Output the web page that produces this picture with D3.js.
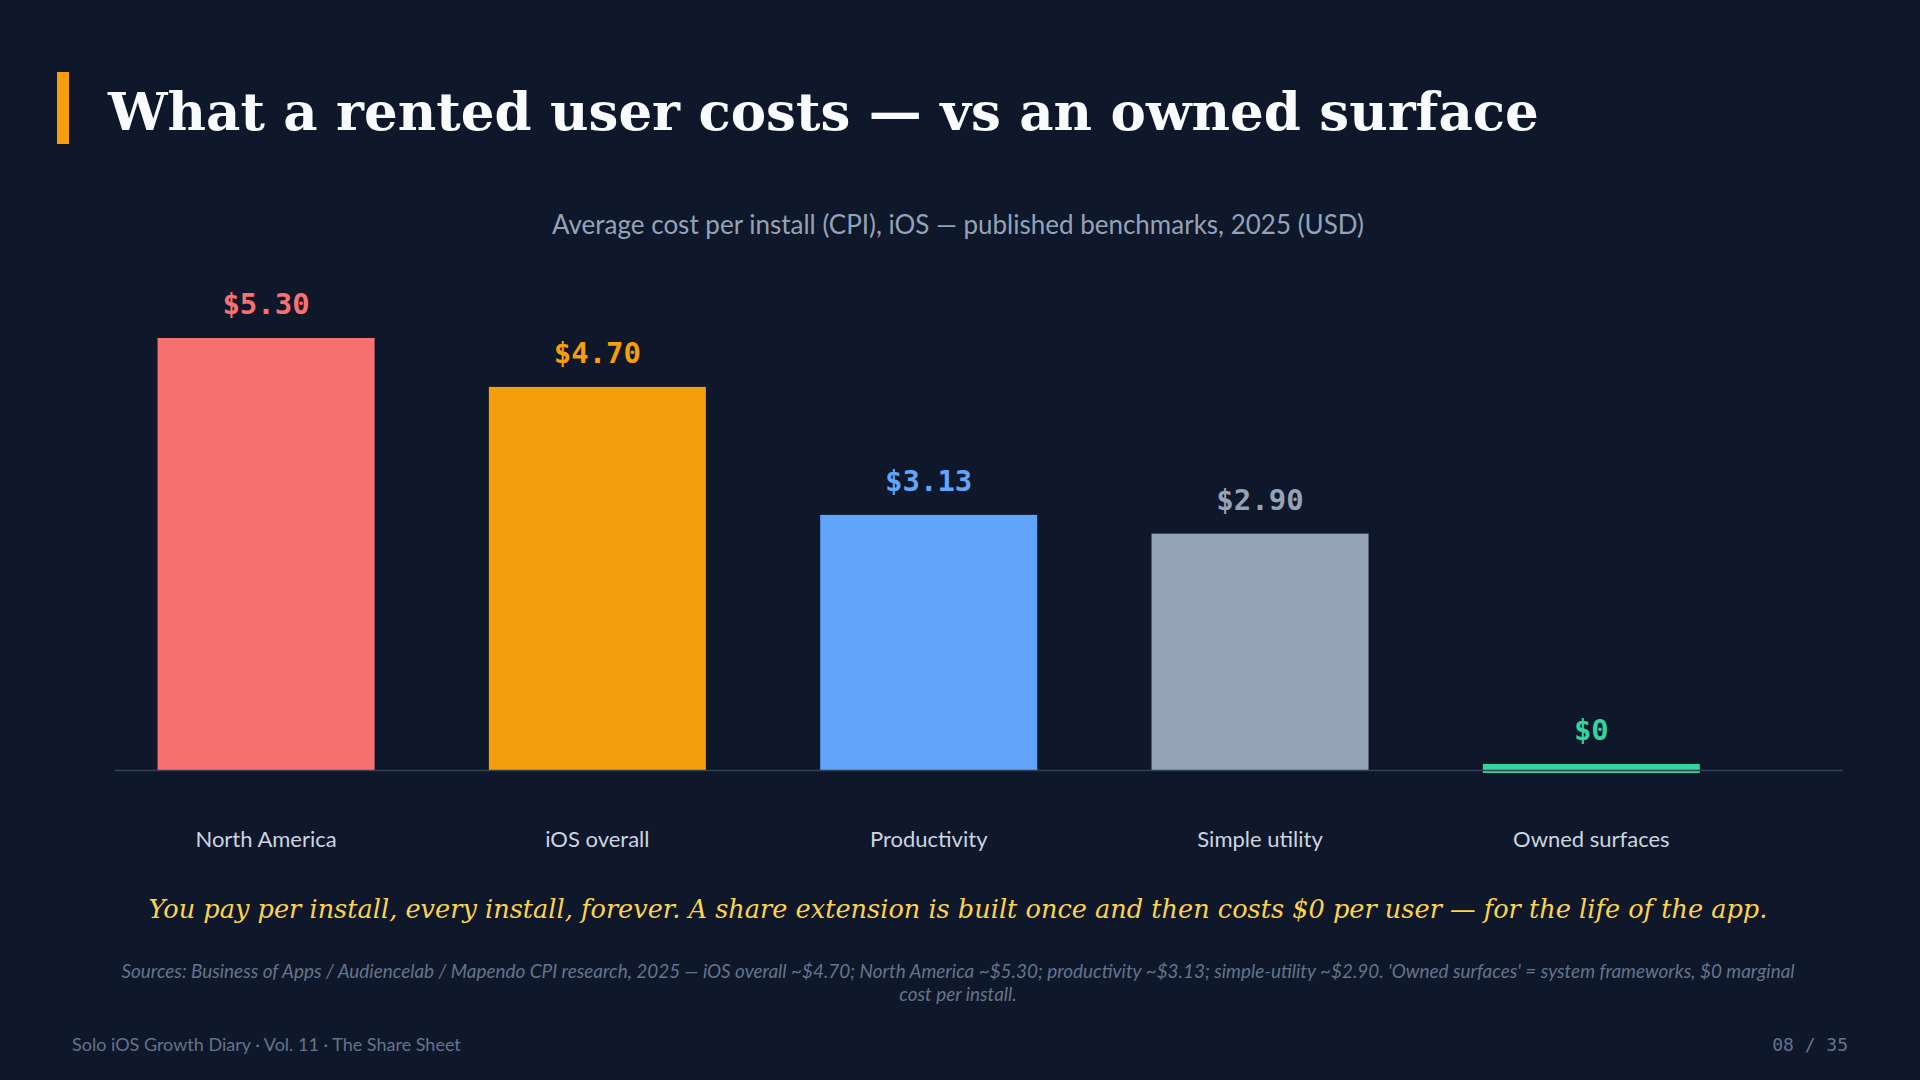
<!doctype html>
<html>
    <head>
        <meta charset="utf-8">
        <title>rented user cost vs owned surface</title>
        <script src="https://d3js.org/d3.v7.min.js"></script>
        <style type="text/css">
            html, body { margin:0; padding:0; background:#0f172a; }
            svg { display:block; }
        </style>
    </head>
    <body>
      <svg></svg>
      <script type="text/javascript">

        let w = 1920,
            h = 1080;

        // CPI benchmarks, iOS 2025 (USD)
        let categories = ['North America', 'iOS overall', 'Productivity', 'Simple utility', 'Owned surfaces'];
        let values = [5.30, 4.70, 3.13, 2.90, 0];
        let barColors = ['#f87171', '#f59e0b', '#60a5fa', '#94a3b8', '#34d399'];

        let title = 'What a rented user costs \u2014 vs an owned surface';
        let subtitle = 'Average cost per install (CPI), iOS \u2014 published benchmarks, 2025 (USD)';
        let takeaway = 'You pay per install, every install, forever. A share extension is built once and then costs $0 per user \u2014 for the life of the app.';
        let sources = ["Sources: Business of Apps / Audiencelab / Mapendo CPI research, 2025 \u2014 iOS overall ~$4.70; North America ~$5.30; productivity ~$3.13; simple-utility ~$2.90. 'Owned surfaces' = system frameworks, $0 marginal",
                       'cost per install.'];
        let footer = 'Solo iOS Growth Diary \u00b7 Vol. 11 \u00b7 The Share Sheet';
        let pageNo = '08 / 35';

        let svg = d3.select('svg')
                    .attr('width', w)
                    .attr('height', h);

        svg.append('rect')
           .attr('width', w)
           .attr('height', h)
           .attr('fill', '#0f172a');

        // title + accent
        svg.append('rect')
           .attr('x', 57)
           .attr('y', 72)
           .attr('width', 12)
           .attr('height', 72)
           .attr('fill', '#f59e0b');
        svg.append('text')
           .attr('x', 108)
           .attr('y', 130)
           .attr('fill', '#f8fafc')
           .style('font-family', '"DejaVu Serif", serif')
           .style('font-weight', 'bold')
           .style('font-size', '53px')
           .text(title);

        svg.append('text')
           .attr('x', 958)
           .attr('y', 234)
           .attr('text-anchor', 'middle')
           .attr('fill', '#94a3b8')
           .style('font-family', 'Lato, sans-serif')
           .style('font-size', '26px')
           .text(subtitle);

        let xScale = d3.scaleBand()
                       .domain(categories)
                       .range([100.4, 1757])
                       .paddingInner(0.345)
                       .paddingOuter(0.1725);
        let yScale = d3.scaleLinear()
                       .domain([0, d3.max(values)])
                       .range([770, 338]);
        let color = d3.scaleOrdinal()
                      .domain(categories)
                      .range(barColors);

        let chart = svg.append('g');

        chart.selectAll('rect.bar')
             .data(values)
             .enter()
             .append('rect')
             .attr('class', 'bar')
             .attr('x', function(d, i) { return xScale(categories[i]); })
             .attr('width', xScale.bandwidth())
             .attr('y', function(d) {
                 // zero bar still shows as a thin strip on the baseline
                 return d === 0 ? yScale(0) - 6 : yScale(d);
             })
             .attr('height', function(d) {
                 return d === 0 ? 9 : yScale(0) - yScale(d);
             })
             .attr('fill', function(d, i) { return color(categories[i]); });

        // baseline
        chart.append('line')
             .attr('x1', 115)
             .attr('x2', 1843)
             .attr('y1', yScale(0) + 0.5)
             .attr('y2', yScale(0) + 0.5)
             .attr('stroke', '#334155')
             .attr('stroke-width', 1.5);

        chart.selectAll('text.val')
             .data(values)
             .enter()
             .append('text')
             .attr('class', 'val')
             .attr('x', function(d, i) { return xScale(categories[i]) + xScale.bandwidth() / 2; })
             .attr('y', function(d) { return (d === 0 ? yScale(0) - 6 : yScale(d)) - 24; })
             .attr('text-anchor', 'middle')
             .attr('fill', function(d, i) { return color(categories[i]); })
             .style('font-family', '"DejaVu Sans Mono", monospace')
             .style('font-weight', 'bold')
             .style('font-size', '29px')
             .text(function(d) { return d === 0 ? '$0' : '$' + d3.format('.2f')(d); });

        let xAxis = d3.axisBottom(xScale).tickSize(0).tickPadding(0);
        let ax = chart.append('g')
                      .attr('transform', 'translate(0,847)')
                      .call(xAxis);
        ax.select('.domain').remove();
        ax.selectAll('text')
          .attr('dy', 0)
          .attr('fill', '#cbd5e1')
          .style('font-family', 'Lato, sans-serif')
          .style('font-size', '22px');

        // takeaway
        svg.append('text')
           .attr('x', 958)
           .attr('y', 918)
           .attr('text-anchor', 'middle')
           .attr('fill', '#fcd34d')
           .style('font-family', '"DejaVu Serif", serif')
           .style('font-style', 'italic')
           .style('font-size', '25.6px')
           .text(takeaway);

        svg.selectAll('text.src')
           .data(sources)
           .enter()
           .append('text')
           .attr('class', 'src')
           .attr('x', 958)
           .attr('y', function(d, i) { return 978 + i * 23; })
           .attr('text-anchor', 'middle')
           .attr('fill', '#64748b')
           .style('font-family', 'Lato, sans-serif')
           .style('font-style', 'italic')
           .style('font-size', '18.9px')
           .text(function(d) { return d; });

        svg.append('text')
           .attr('x', 72)
           .attr('y', 1051)
           .attr('fill', '#64748b')
           .style('font-family', 'Lato, sans-serif')
           .style('font-size', '18px')
           .text(footer);
        svg.append('text')
           .attr('x', 1848)
           .attr('y', 1051)
           .attr('text-anchor', 'end')
           .attr('fill', '#64748b')
           .style('font-family', '"DejaVu Sans Mono", monospace')
           .style('font-size', '18px')
           .text(pageNo);
        </script>
    </body>
</html>
